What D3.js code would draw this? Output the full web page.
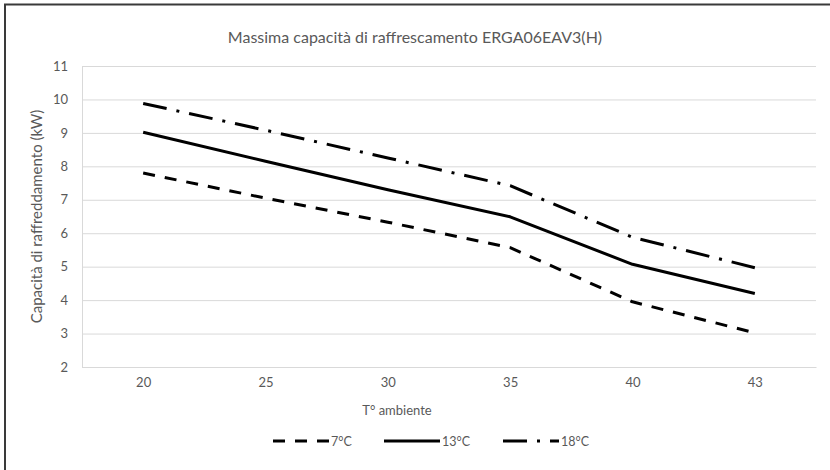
<!DOCTYPE html>
<html><head><meta charset="utf-8">
<script src="https://cdn.jsdelivr.net/npm/d3@7"></script>
<style>
html,body{margin:0;padding:0;background:#fff;}
svg{display:block;}
text{font-family:Lato,"Open Sans",sans-serif;fill:#595959;}
</style></head>
<body>
<svg id="chart" width="830" height="470"></svg>
<script>
const categories = ["20","25","30","35","40","43"];
const s7  = [7.80, 7.05, 6.33, 5.57, 3.95, 3.02];
const s13 = [9.02, 8.15, 7.30, 6.49, 5.07, 4.20];
const s18 = [9.88, 9.08, 8.25, 7.42, 5.88, 4.97];
const seriesNames = ["7°C","13°C","18°C"];
const yTicks = [2,3,4,5,6,7,8,9,10,11];
const title = "Massima capacità di raffrescamento ERGA06EAV3(H)";
const xTitle = "T° ambiente";
const yTitle = "Capacità di raffreddamento (kW)";

const series = [
  {name: seriesNames[0], values: s7,  dash: "12,10"},
  {name: seriesNames[1], values: s13, dash: null},
  {name: seriesNames[2], values: s18, dash: "24,10,3,10"}
];

const svg = d3.select("#chart");
svg.append("rect").attr("x",5).attr("y",4.5).attr("width",900).attr("height",600)
  .attr("fill","#fff").attr("stroke","#3a3a3a").attr("stroke-width",2);

const L=82, R=816, T=66, B=367;
const x = d3.scalePoint().domain(categories).range([L,R]).padding(0.5);
const y = d3.scaleLinear().domain([2,11]).range([B,T]);

const yAxis = d3.axisLeft(y).tickValues(yTicks).tickSize(-(R-L)).tickPadding(14).tickFormat(d3.format("d"));
const gy = svg.append("g").attr("transform",`translate(${L},0)`).call(yAxis);
gy.select(".domain").attr("stroke","#d9d9d9");
gy.selectAll(".tick line").attr("stroke","#d9d9d9").attr("stroke-width",1);
gy.selectAll(".tick text").style("font-size","13px").attr("fill","#595959");

const xAxis = d3.axisBottom(x).tickSize(0).tickPadding(11);
const gx = svg.append("g").attr("transform",`translate(0,${B})`).call(xAxis);
gx.select(".domain").attr("stroke","#d9d9d9");
gx.selectAll(".tick text").style("font-size","13px").attr("fill","#595959");

const line = d3.line().x((d,i)=>x(categories[i])).y(d=>y(d));
series.forEach(s=>{
  svg.append("path").datum(s.values).attr("d",line)
    .attr("fill","none").attr("stroke","#000").attr("stroke-width",3)
    .attr("stroke-linejoin","round")
    .attr("stroke-dasharray", s.dash);
});

svg.append("text").attr("x",415).attr("y",43).attr("text-anchor","middle")
  .style("font-size","16px").text(title);
svg.append("text").attr("x",397).attr("y",415).attr("text-anchor","middle")
  .style("font-size","13px").text(xTitle);
svg.append("text").attr("transform",`translate(42,${(T+B)/2}) rotate(-90)`).attr("text-anchor","middle")
  .style("font-size","15px").text(yTitle);

const legendX = [273, 384, 503];
series.forEach((s,i)=>{
  const g = svg.append("g").attr("transform",`translate(${legendX[i]},441)`);
  g.append("line").attr("x1",0).attr("x2",56).attr("y1",0).attr("y2",0)
    .attr("stroke","#000").attr("stroke-width",3).attr("stroke-dasharray", s.dash);
  g.append("text").attr("x",58).attr("y",4.5).style("font-size","12.5px").text(s.name);
});
</script>
</body></html>
